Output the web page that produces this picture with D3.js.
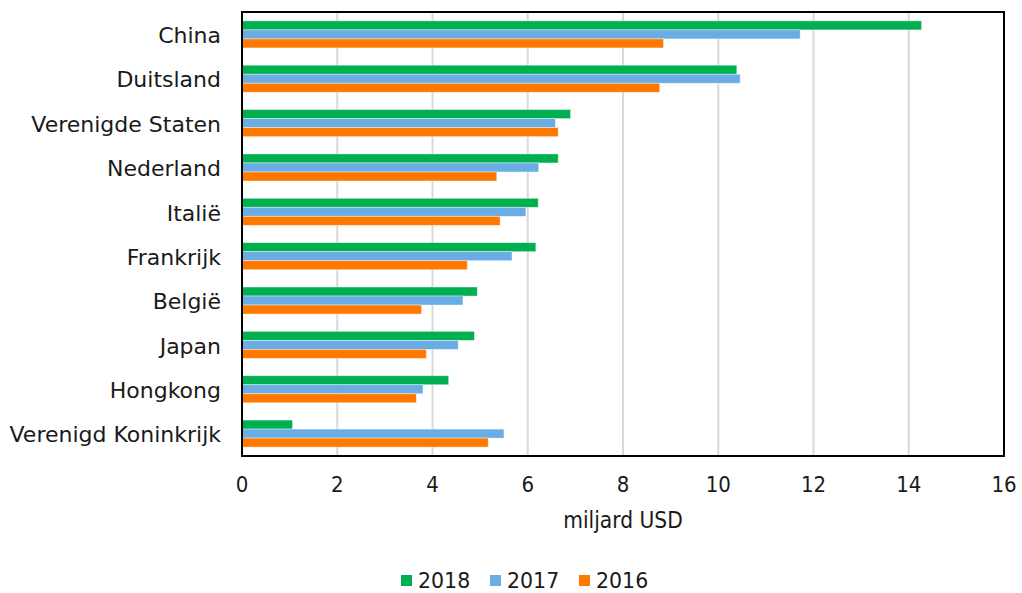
<!DOCTYPE html>
<html>
<head>
<meta charset="utf-8">
<script src="https://cdn.jsdelivr.net/npm/d3@7"></script>
<style>
  body { margin: 0; background: #fff; }
  svg { display: block; }
</style>
</head>
<body>
<script>
// Data
var countries = ["China", "Duitsland", "Verenigde Staten", "Nederland", "Italië",
                 "Frankrijk", "België", "Japan", "Hongkong", "Verenigd Koninkrijk"];
var years = ["2018", "2017", "2016"];
var values2018 = [14.27, 10.39, 6.90, 6.64, 6.22, 6.17, 4.94, 4.88, 4.34, 1.06];
var values2017 = [11.72, 10.46, 6.58, 6.23, 5.96, 5.67, 4.64, 4.54, 3.80, 5.50];
var values2016 = [8.85, 8.77, 6.64, 5.35, 5.42, 4.73, 3.77, 3.87, 3.66, 5.17];
var xTicks = [0, 2, 4, 6, 8, 10, 12, 14, 16];
var colors = ["#00b050", "#6aade4", "#ff7800"];

var seriesValues = [values2018, values2017, values2016];

var W = 1022, H = 593;
var margin = {top: 12, right: 18, bottom: 137, left: 242},
    width = W - margin.left - margin.right,
    height = H - margin.top - margin.bottom;

var svg = d3.select("body").append("svg")
    .attr("width", W)
    .attr("height", H);

var g = svg.append("g")
    .attr("transform", "translate(" + margin.left + "," + margin.top + ")");

var x = d3.scaleLinear().domain([0, 16]).range([0, width]);
var y = d3.scaleBand().domain(countries).range([0, height]).paddingInner(0.39).paddingOuter(0.2);
var ySub = d3.scaleBand().domain(years).range([0, y.bandwidth()]);

// gridlines
g.selectAll(".grid")
    .data(xTicks.slice(1, -1))
    .enter().append("line")
    .attr("x1", function(d) { return x(d); })
    .attr("x2", function(d) { return x(d); })
    .attr("y1", 0)
    .attr("y2", height)
    .style("stroke", "#d9d9d9")
    .style("stroke-width", 2);

// bars
var groups = g.selectAll(".country")
    .data(countries)
    .enter().append("g")
    .attr("transform", function(d) { return "translate(0," + y(d) + ")"; });

groups.selectAll("rect")
    .data(function(d, i) {
        return years.map(function(yr, j) { return {year: yr, value: seriesValues[j][i], color: colors[j]}; });
    })
    .enter().append("rect")
    .attr("x", 0)
    .attr("y", function(d) { return ySub(d.year); })
    .attr("width", function(d) { return x(d.value); })
    .attr("height", ySub.bandwidth())
    .style("fill", function(d) { return d.color; })
    .style("stroke", "#fff")
    .style("stroke-opacity", 0.5)
    .style("stroke-width", 0.8);

// frame
g.append("rect")
    .attr("x", 0).attr("y", 0)
    .attr("width", width).attr("height", height)
    .style("fill", "none")
    .style("stroke", "#000")
    .style("stroke-width", 2);

// y labels
g.selectAll(".ylab")
    .data(countries)
    .enter().append("text")
    .attr("x", -21)
    .attr("y", function(d) { return y(d) + y.bandwidth() / 2 + 1; })
    .attr("dy", "0.35em")
    .attr("text-anchor", "end")
    .style("font-family", "'DejaVu Sans', Verdana, sans-serif")
    .style("font-size", "22px")
    .style("fill", "#1a1a1a")
    .text(function(d) { return d; });

// x tick labels
g.selectAll(".xlab")
    .data(xTicks)
    .enter().append("text")
    .attr("x", function(d) { return x(d); })
    .attr("y", height + 28)
    .attr("dy", "0.35em")
    .attr("text-anchor", "middle")
    .style("font-family", "'DejaVu Sans Condensed', Tahoma, sans-serif")
    .style("font-size", "22px")
    .style("fill", "#1a1a1a")
    .text(function(d) { return d; });

// axis title
g.append("text")
    .attr("x", x(8))
    .attr("y", height + 64)
    .attr("dy", "0.35em")
    .attr("text-anchor", "middle")
    .style("font-family", "'DejaVu Sans Condensed', Tahoma, sans-serif")
    .style("font-size", "22.5px")
    .style("fill", "#1a1a1a")
    .text("miljard USD");

// legend
var legendX = [401, 490, 579];
var legend = svg.selectAll(".legend")
    .data(years)
    .enter().append("g")
    .attr("transform", function(d, i) { return "translate(" + legendX[i] + ",580.5)"; });

legend.append("rect")
    .attr("x", 0).attr("y", -5.5)
    .attr("width", 11).attr("height", 11)
    .style("fill", function(d, i) { return colors[i]; });

legend.append("text")
    .attr("x", 17)
    .attr("y", 0)
    .attr("dy", "0.35em")
    .style("font-family", "'DejaVu Sans', Verdana, sans-serif")
    .style("font-size", "20.5px")
    .style("fill", "#1a1a1a")
    .text(function(d) { return d; });
</script>
</body>
</html>
